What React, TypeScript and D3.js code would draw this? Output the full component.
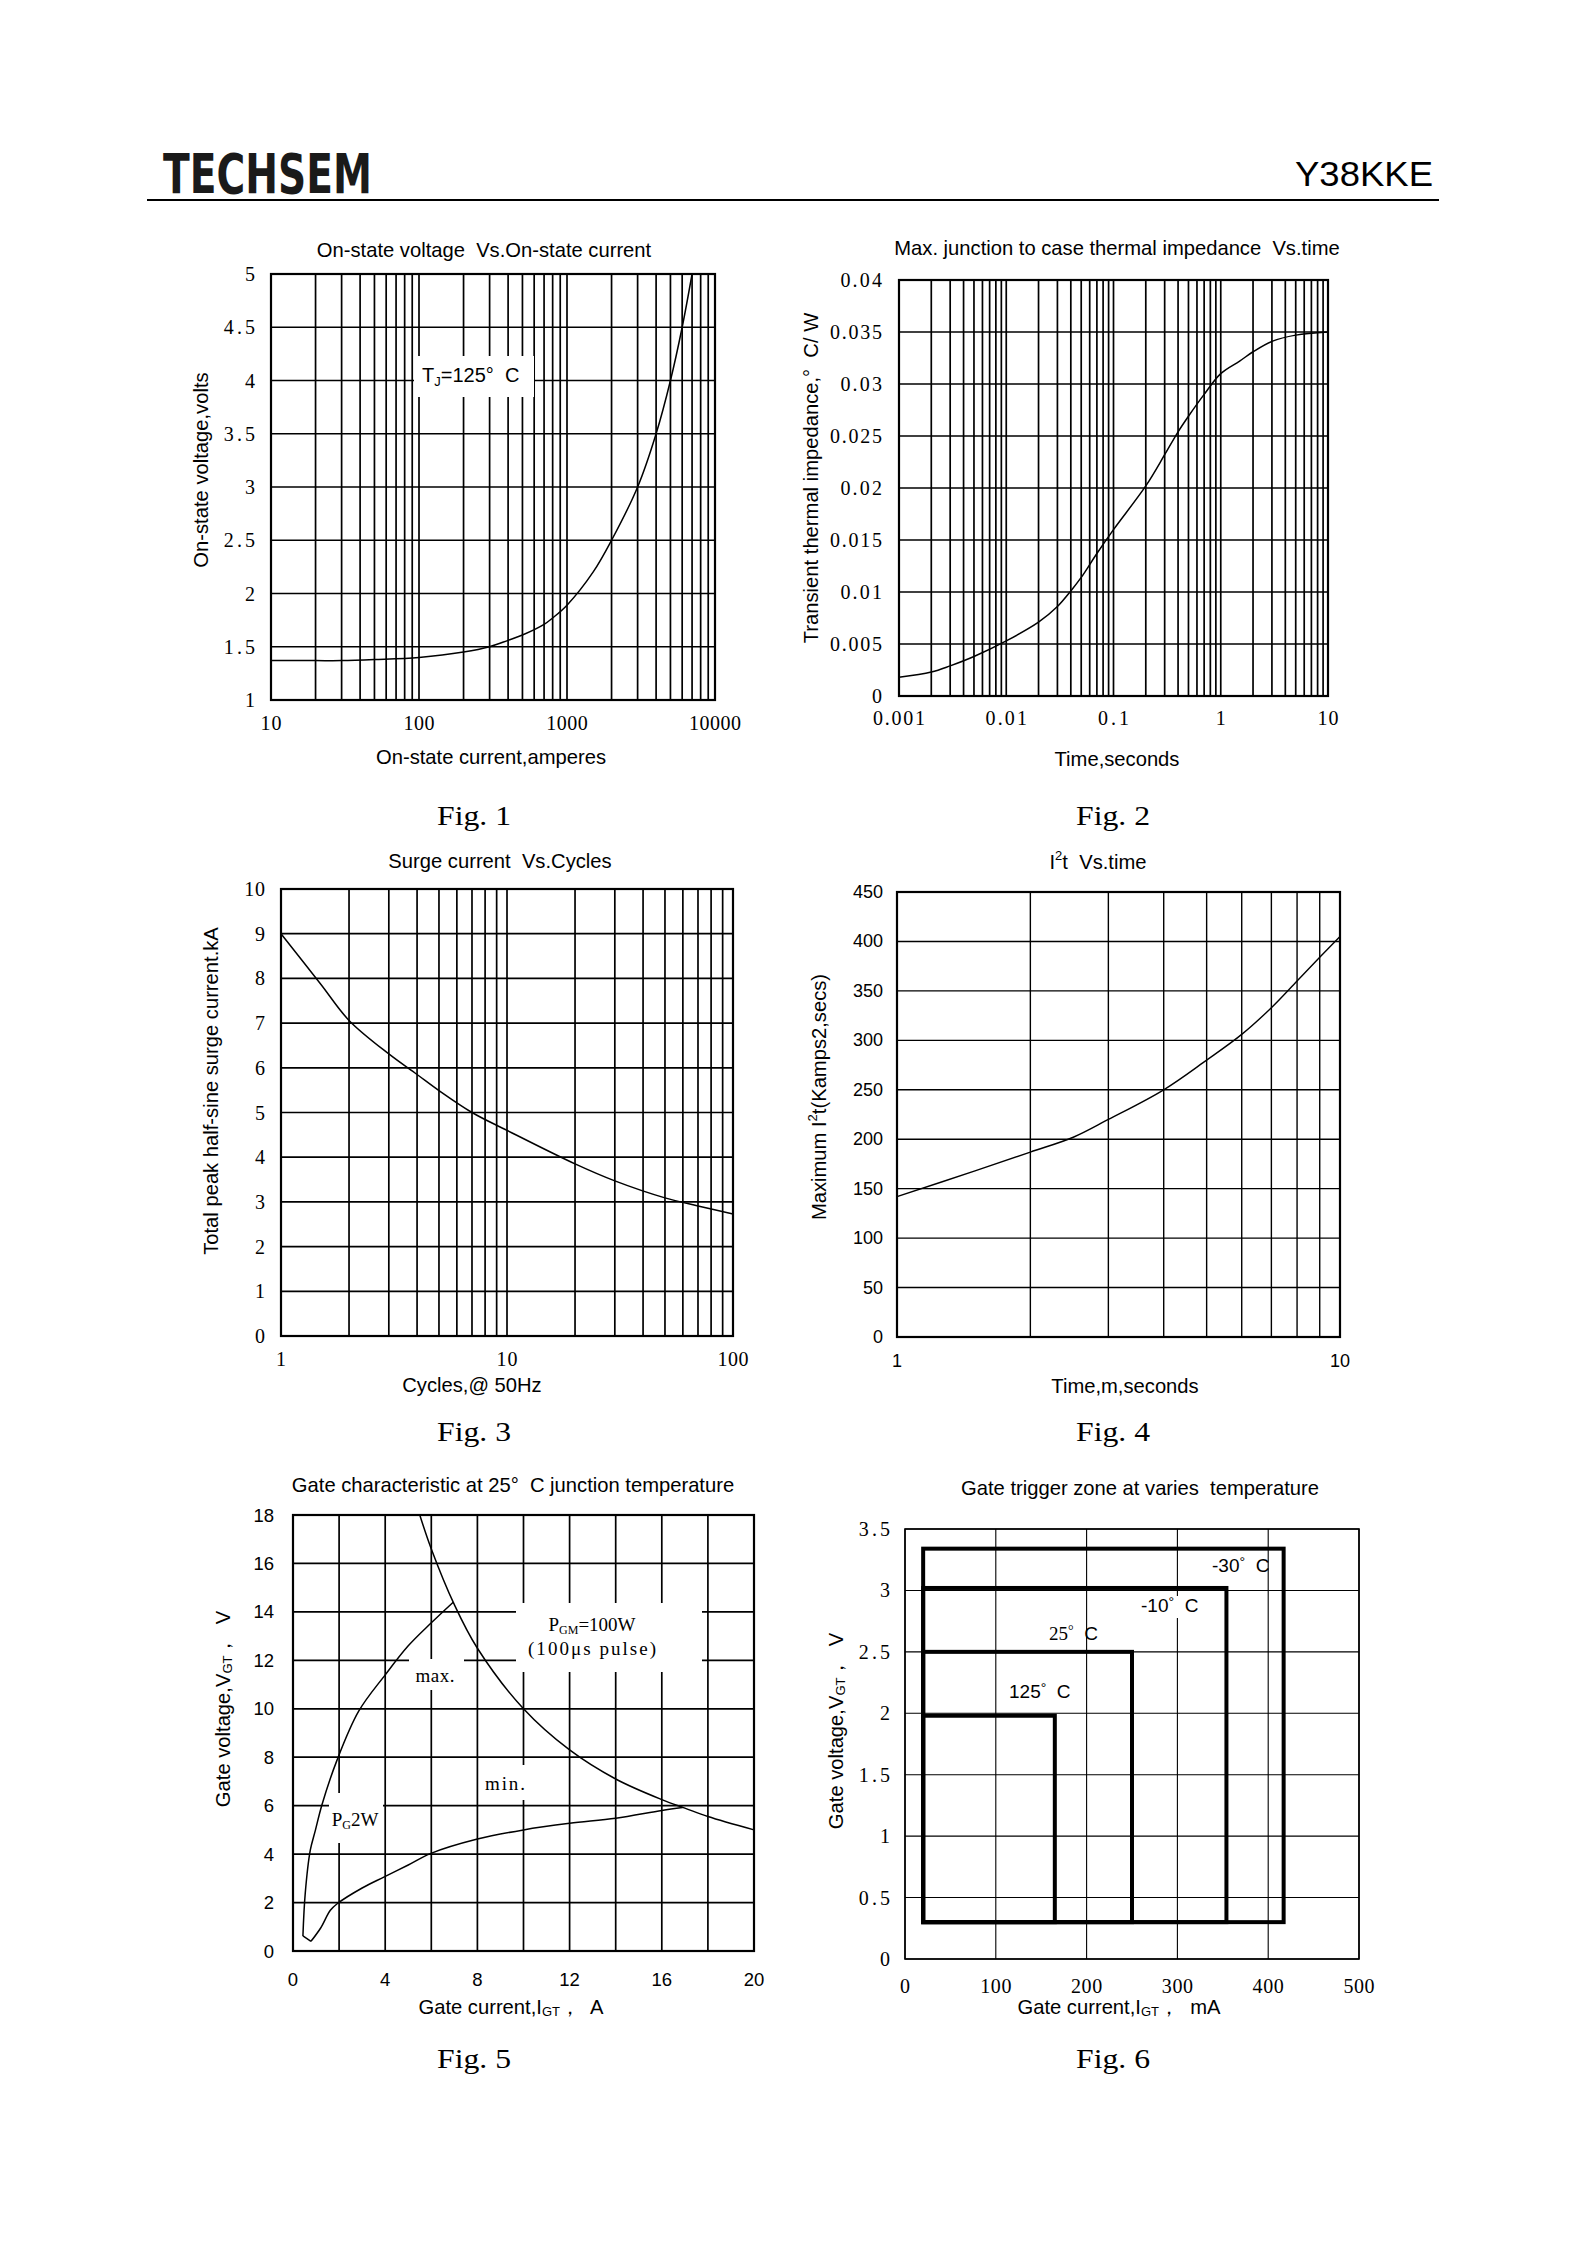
import React from 'react';
import * as d3 from 'd3';

const SANS = '"Liberation Sans", Arial, sans-serif';
const SERIF = '"Liberation Serif", "Times New Roman", serif';

// ---------- Fig 1 : On-state voltage vs current ----------
const fig1Current = [10, 20, 30, 50, 100, 200, 300, 400, 500, 700, 800, 1000, 1500, 2000, 3000, 4000, 5000, 6000, 7000];
const fig1Voltage = [1.37, 1.37, 1.37, 1.38, 1.40, 1.45, 1.50, 1.56, 1.61, 1.71, 1.77, 1.89, 2.2, 2.5, 3.0, 3.5, 4.0, 4.5, 5.0];
const fig1YTicks = [1, 1.5, 2, 2.5, 3, 3.5, 4, 4.5, 5];
const fig1XTicks = [10, 100, 1000, 10000];

// ---------- Fig 2 : thermal impedance ----------
const fig2Time = [0.001, 0.002, 0.003, 0.005, 0.01, 0.02, 0.03, 0.04, 0.05, 0.07, 0.1, 0.2, 0.3, 0.4, 0.5, 0.7, 1, 1.5, 2, 3, 5, 10];
const fig2Z = [0.0018, 0.0023, 0.0029, 0.0038, 0.0053, 0.0071, 0.0086, 0.0101, 0.0114, 0.0137, 0.016, 0.0202, 0.0232, 0.0254, 0.0269, 0.029, 0.031, 0.0322, 0.0331, 0.0341, 0.0347, 0.035];
const fig2YTicks = [0, 0.005, 0.01, 0.015, 0.02, 0.025, 0.03, 0.035, 0.04];
const fig2YLabels = ['0', '0.005', '0.01', '0.015', '0.02', '0.025', '0.03', '0.035', '0.04'];
const fig2XTicks = [0.001, 0.01, 0.1, 1, 10];
const fig2XLabels = ['0.001', '0.01', '0.1', '1', '10'];

// ---------- Fig 3 : surge current ----------
const fig3Cycles = [1, 1.5, 2, 3, 4, 5, 7, 10, 20, 30, 50, 70, 100];
const fig3Surge = [9.0, 7.87, 7.06, 6.31, 5.85, 5.49, 5.0, 4.6, 3.85, 3.47, 3.09, 2.91, 2.73];
const fig3YTicks = [0, 1, 2, 3, 4, 5, 6, 7, 8, 9, 10];
const fig3XTicks = [1, 10, 100];

// ---------- Fig 4 : I2t ----------
const fig4Time = [1, 1.5, 2, 2.5, 3, 4, 5, 6, 7, 8, 9, 10];
const fig4I2t = [142, 168, 187, 202, 220, 250, 280, 306, 333, 360, 384, 405];
const fig4YTicks = [0, 50, 100, 150, 200, 250, 300, 350, 400, 450];
const fig4XTicks = [1, 10];

// ---------- Fig 5 : gate characteristic ----------
const fig5PowerI = [5.5, 6, 7, 8, 10, 12, 14, 16, 17, 18, 20];
const fig5PowerV = [18, 16.6, 14.3, 12.5, 10, 8.3, 7.1, 6.25, 5.9, 5.55, 5.0];
const fig5MaxI = [0.43, 0.53, 0.75, 0.97, 1.26, 1.91, 2.85, 4.0, 5.0, 6.0, 6.95];
const fig5MaxV = [0.62, 2.37, 4.16, 4.98, 6.05, 7.88, 9.9, 11.4, 12.6, 13.55, 14.4];
const fig5JoinI = [0.43, 0.78];
const fig5JoinV = [0.62, 0.40];
const fig5MinI = [0.78, 1.2, 1.62, 1.93, 3, 3.96, 5, 5.96, 8, 10, 12, 14, 16, 16.9];
const fig5MinV = [0.40, 0.95, 1.68, 1.96, 2.6, 3.06, 3.55, 4.02, 4.62, 5.0, 5.27, 5.48, 5.8, 5.92];
const fig5XGrid = [0, 2, 4, 6, 8, 10, 12, 14, 16, 18, 20];
const fig5XTicks = [0, 4, 8, 12, 16, 20];
const fig5YTicks = [0, 2, 4, 6, 8, 10, 12, 14, 16, 18];

// ---------- Fig 6 : gate trigger zone ----------
const fig6Temps = ['-30', '-10', '25', '125'];
const fig6IMin = [20, 20, 20, 20];
const fig6VMin = [0.3, 0.3, 0.3, 0.3];
const fig6IMax = [417, 354, 250, 165];
const fig6VMax = [3.34, 3.02, 2.5, 1.98];
const fig6XTicks = [0, 100, 200, 300, 400, 500];
const fig6YTicks = [0, 0.5, 1, 1.5, 2, 2.5, 3, 3.5];
const fig6YLabels = ['0', '0.5', '1', '1.5', '2', '2.5', '3', '3.5'];

const logGrid = (lo: number, hi: number) => {
  const out: number[] = [];
  const e0 = Math.round(Math.log10(lo));
  const e1 = Math.round(Math.log10(hi));
  for (let e = e0; e < e1; e++) for (let d = 1; d <= 9; d++) out.push(d * Math.pow(10, e));
  out.push(hi);
  return out;
};

function Frame({ x, y, xGrid, yGrid, gw, bw, x0, x1, y0, y1 }: any) {
  return (
    <g>
      {xGrid.map((v: number, i: number) => (
        <line key={'x' + i} x1={x(v)} x2={x(v)} y1={y0} y2={y1} stroke="#000" strokeWidth={gw} />
      ))}
      {yGrid.map((v: number, i: number) => (
        <line key={'y' + i} x1={x0} x2={x1} y1={y(v)} y2={y(v)} stroke="#000" strokeWidth={gw} />
      ))}
      <rect x={x0} y={y0} width={x1 - x0} height={y1 - y0} fill="none" stroke="#000" strokeWidth={bw} />
    </g>
  );
}

function Curve({ xs, ys, x, y, w = 1.5, curve = d3.curveCatmullRom.alpha(0.5) }: any) {
  const pts: [number, number][] = xs.map((v: number, i: number) => [x(v), y(ys[i])]);
  const path = d3.line().curve(curve)(pts) || '';
  return <path d={path} fill="none" stroke="#000" strokeWidth={w} strokeLinejoin="round" />;
}

// serif tick labels mimic a half-width monospace face: every character takes half an em
function YTickLabels({ ticks, labels, y, xr, font, size, mono }: any) {
  return (
    <g fontFamily={font} fontSize={size} textAnchor="end">
      {ticks.map((v: number, i: number) => {
        const s = labels ? labels[i] : String(v);
        const extra = mono && s.length > 1 ? { textLength: s.length * size * 0.52, lengthAdjust: 'spacing' } : {};
        return <text key={i} x={xr} y={y(v)} dominantBaseline="central" {...extra}>{s}</text>;
      })}
    </g>
  );
}

function XTickLabels({ ticks, labels, x, yc, font, size, mono }: any) {
  return (
    <g fontFamily={font} fontSize={size} textAnchor="middle">
      {ticks.map((v: number, i: number) => {
        const s = labels ? labels[i] : String(v);
        const extra = mono && s.length > 1 ? { textLength: s.length * size * 0.52, lengthAdjust: 'spacing' } : {};
        return <text key={i} x={x(v)} y={yc} dominantBaseline="central" {...extra}>{s}</text>;
      })}
    </g>
  );
}

const T = (props: any) => (
  <text fontFamily={SANS} fontSize={20.2} textAnchor="middle" dominantBaseline="central" style={{ whiteSpace: 'pre' }} {...props} />
);

function Fig1() {
  const x0 = 271, x1 = 715, y0 = 274, y1 = 700;
  const x = d3.scaleLog().domain([10, 10000]).range([x0, x1]);
  const y = d3.scaleLinear().domain([1, 5]).range([y1, y0]);
  return (
    <g>
      <Frame x={x} y={y} xGrid={logGrid(10, 10000)} yGrid={fig1YTicks} gw={1.7} bw={2.2} x0={x0} x1={x1} y0={y0} y1={y1} />
      <rect x={414} y={356} width={120} height={41} fill="#fff" />
      <text x={422} y={382} fontFamily={SANS} fontSize={20} style={{ whiteSpace: 'pre' }}>
        T<tspan fontSize={13} dy={4}>J</tspan><tspan dy={-4}>=125°  C</tspan>
      </text>
      <Curve xs={fig1Current} ys={fig1Voltage} x={x} y={y} />
      <YTickLabels ticks={fig1YTicks} y={y} xr={255} font={SERIF} size={20} mono />
      <XTickLabels ticks={fig1XTicks} x={x} yc={723} font={SERIF} size={20} mono />
      <T x={484} y={250}>On-state voltage  Vs.On-state current</T>
      <T x={491} y={757}>On-state current,amperes</T>
      <T x={201} y={470} transform="rotate(-90 201 470)">On-state voltage,volts</T>
    </g>
  );
}

function Fig2() {
  const x0 = 899, x1 = 1328, y0 = 280, y1 = 696;
  const x = d3.scaleLog().domain([0.001, 10]).range([x0, x1]);
  const y = d3.scaleLinear().domain([0, 0.04]).range([y1, y0]);
  return (
    <g>
      <Frame x={x} y={y} xGrid={logGrid(0.001, 10)} yGrid={fig2YTicks} gw={1.7} bw={2.2} x0={x0} x1={x1} y0={y0} y1={y1} />
      <Curve xs={fig2Time} ys={fig2Z} x={x} y={y} />
      <YTickLabels ticks={fig2YTicks} labels={fig2YLabels} y={y} xr={882} font={SERIF} size={20} mono />
      <XTickLabels ticks={fig2XTicks} labels={fig2XLabels} x={x} yc={718} font={SERIF} size={20} mono />
      <T x={1117} y={248}>Max. junction to case thermal impedance  Vs.time</T>
      <T x={1117} y={759}>Time,seconds</T>
      <T x={811} y={478} transform="rotate(-90 811 478)">Transient thermal impedance,°  C/ W</T>
    </g>
  );
}

function Fig3() {
  const x0 = 281, x1 = 733, y0 = 889, y1 = 1336;
  const x = d3.scaleLog().domain([1, 100]).range([x0, x1]);
  const y = d3.scaleLinear().domain([0, 10]).range([y1, y0]);
  return (
    <g>
      <Frame x={x} y={y} xGrid={logGrid(1, 100)} yGrid={fig3YTicks} gw={1.7} bw={2.2} x0={x0} x1={x1} y0={y0} y1={y1} />
      <Curve xs={fig3Cycles} ys={fig3Surge} x={x} y={y} />
      <YTickLabels ticks={fig3YTicks} y={y} xr={265} font={SERIF} size={20} mono />
      <XTickLabels ticks={fig3XTicks} x={x} yc={1359} font={SERIF} size={20} mono />
      <T x={500} y={861}>Surge current  Vs.Cycles</T>
      <T x={472} y={1385}>Cycles,@ 50Hz</T>
      <T x={211} y={1091} transform="rotate(-90 211 1091)">Total peak half-sine surge current.kA</T>
    </g>
  );
}

function Fig4() {
  const x0 = 897, x1 = 1340, y0 = 892, y1 = 1337;
  const x = d3.scaleLog().domain([1, 10]).range([x0, x1]);
  const y = d3.scaleLinear().domain([0, 450]).range([y1, y0]);
  return (
    <g>
      <Frame x={x} y={y} xGrid={logGrid(1, 10)} yGrid={fig4YTicks} gw={1.4} bw={2.2} x0={x0} x1={x1} y0={y0} y1={y1} />
      <Curve xs={fig4Time} ys={fig4I2t} x={x} y={y} w={1.4} />
      <YTickLabels ticks={fig4YTicks} y={y} xr={883} font={SANS} size={18} />
      <XTickLabels ticks={fig4XTicks} x={x} yc={1361} font={SANS} size={18} />
      <T x={1098} y={862}>I<tspan fontSize={13} dy={-7}>2</tspan><tspan dy={7}>t  Vs.time</tspan></T>
      <T x={1125} y={1386}>Time,m,seconds</T>
      <T x={819} y={1097} transform="rotate(-90 819 1097)">Maximum I<tspan fontSize={13} dy={-7}>2</tspan><tspan dy={7}>t(Kamps2,secs)</tspan></T>
    </g>
  );
}

function Fig5() {
  const x0 = 293, x1 = 754, y0 = 1515, y1 = 1951;
  const x = d3.scaleLinear().domain([0, 20]).range([x0, x1]);
  const y = d3.scaleLinear().domain([0, 18]).range([y1, y0]);
  return (
    <g>
      <Frame x={x} y={y} xGrid={fig5XGrid} yGrid={fig5YTicks} gw={1.7} bw={2.2} x0={x0} x1={x1} y0={y0} y1={y1} />
      <rect x={409} y={1659} width={55} height={31} fill="#fff" />
      <rect x={516} y={1603} width={186} height={69} fill="#fff" />
      <rect x={482} y={1765} width={45} height={35} fill="#fff" />
      <rect x={329} y={1793} width={54} height={50} fill="#fff" />
      <Curve xs={fig5PowerI} ys={fig5PowerV} x={x} y={y} />
      <Curve xs={fig5MaxI} ys={fig5MaxV} x={x} y={y} />
      <Curve xs={fig5JoinI} ys={fig5JoinV} x={x} y={y} curve={d3.curveLinear} />
      <Curve xs={fig5MinI} ys={fig5MinV} x={x} y={y} />
      <g fontFamily={SERIF} fontSize={19} textAnchor="middle" style={{ whiteSpace: 'pre' }}>
        <text x={435} y={1682} textLength={39} lengthAdjust="spacing">max.</text>
        <text x={505} y={1790} textLength={40} lengthAdjust="spacing">min.</text>
        <text x={355} y={1826}>P<tspan fontSize={12} dy={3}>G</tspan><tspan dy={-3}>2W</tspan></text>
        <text x={592} y={1631}>P<tspan fontSize={12} dy={3}>GM</tspan><tspan dy={-3}>=100W</tspan></text>
        <text x={592} y={1655} textLength={128} lengthAdjust="spacing">(100μs pulse)</text>
      </g>
      <YTickLabels ticks={fig5YTicks} y={y} xr={274} font={SANS} size={18.5} />
      <XTickLabels ticks={fig5XTicks} x={x} yc={1979} font={SANS} size={18.5} />
      <T x={513} y={1485}>Gate characteristic at 25°  C junction temperature</T>
      <T x={511} y={2007}>Gate current,I<tspan fontSize={13} dy={4}>GT</tspan><tspan dy={-4}>，  A</tspan></T>
      <T x={223} y={1709} transform="rotate(-90 223 1709)">Gate voltage,V<tspan fontSize={13} dy={4}>GT</tspan><tspan dy={-4}>，  V</tspan></T>
    </g>
  );
}

function Fig6() {
  const x0 = 905, x1 = 1359, y0 = 1529, y1 = 1959;
  const x = d3.scaleLinear().domain([0, 500]).range([x0, x1]);
  const y = d3.scaleLinear().domain([0, 3.5]).range([y1, y0]);
  const labelPos = [
    { lx: 1212, ly: 1572, serif: false },
    { lx: 1141, ly: 1612, serif: false },
    { lx: 1049, ly: 1640, serif: true },
    { lx: 1009, ly: 1698, serif: false },
  ];
  return (
    <g>
      <Frame x={x} y={y} xGrid={fig6XTicks} yGrid={fig6YTicks} gw={1.1} bw={1.6} x0={x0} x1={x1} y0={y0} y1={y1} />
      {fig6Temps.map((t, i) => (
        <rect key={i} x={x(fig6IMin[i])} y={y(fig6VMax[i])} width={x(fig6IMax[i]) - x(fig6IMin[i])}
          height={y(fig6VMin[i]) - y(fig6VMax[i])} fill="none" stroke="#000" strokeWidth={4} />
      ))}
      <rect x={1160} y={1596} width={22} height={22} fill="#fff" />
      {fig6Temps.map((t, i) => (
        <text key={'l' + i} x={labelPos[i].lx} y={labelPos[i].ly} fontSize={19} style={{ whiteSpace: 'pre' }}
          fontFamily={labelPos[i].serif ? SERIF : SANS}>
          {t}<tspan fontSize={14} dy={-5}>°</tspan><tspan dy={5} fontFamily={SANS}>  C</tspan>
        </text>
      ))}
      <YTickLabels ticks={fig6YTicks} labels={fig6YLabels} y={y} xr={890} font={SERIF} size={20} mono />
      <XTickLabels ticks={fig6XTicks} x={x} yc={1986} font={SERIF} size={20} mono />
      <T x={1140} y={1488}>Gate trigger zone at varies  temperature</T>
      <T x={1119} y={2007}>Gate current,I<tspan fontSize={13} dy={4}>GT</tspan><tspan dy={-4}>，  mA</tspan></T>
      <T x={836} y={1731} transform="rotate(-90 836 1731)">Gate voltage,V<tspan fontSize={13} dy={4}>GT</tspan><tspan dy={-4}>，  V</tspan></T>
    </g>
  );
}

const figCaptions = ['Fig. 1', 'Fig. 2', 'Fig. 3', 'Fig. 4', 'Fig. 5', 'Fig. 6'];

export default function App() {
  const capX = [474, 1113];
  const capY = [825, 1441, 2068];
  return (
    <div style={{ position: 'absolute', left: 0, top: 0 }}>
      <svg width={1588} height={2245} viewBox="0 0 1588 2245" style={{ display: 'block', background: '#fff' }}>
        <rect x={0} y={0} width={1588} height={2245} fill="#fff" />
        <text x={163} y={193} fontFamily='"DejaVu Sans", sans-serif' fontWeight="bold" fontSize={55}
          textLength={209} lengthAdjust="spacingAndGlyphs" fill="#1a1a1a">TECHSEM</text>
        <text x={1295} y={186} fontFamily={SANS} fontSize={35} textLength={138} lengthAdjust="spacingAndGlyphs">Y38KKE</text>
        <line x1={147} x2={1439} y1={200} y2={200} stroke="#000" strokeWidth={2} />
        <Fig1 />
        <Fig2 />
        <Fig3 />
        <Fig4 />
        <Fig5 />
        <Fig6 />
        {figCaptions.map((c, i) => (
          <text key={c} x={capX[i % 2]} y={capY[Math.floor(i / 2)]} fontFamily={SERIF} fontSize={28}
            textAnchor="middle" textLength={74} lengthAdjust="spacingAndGlyphs">{c}</text>
        ))}
      </svg>
    </div>
  );
}
